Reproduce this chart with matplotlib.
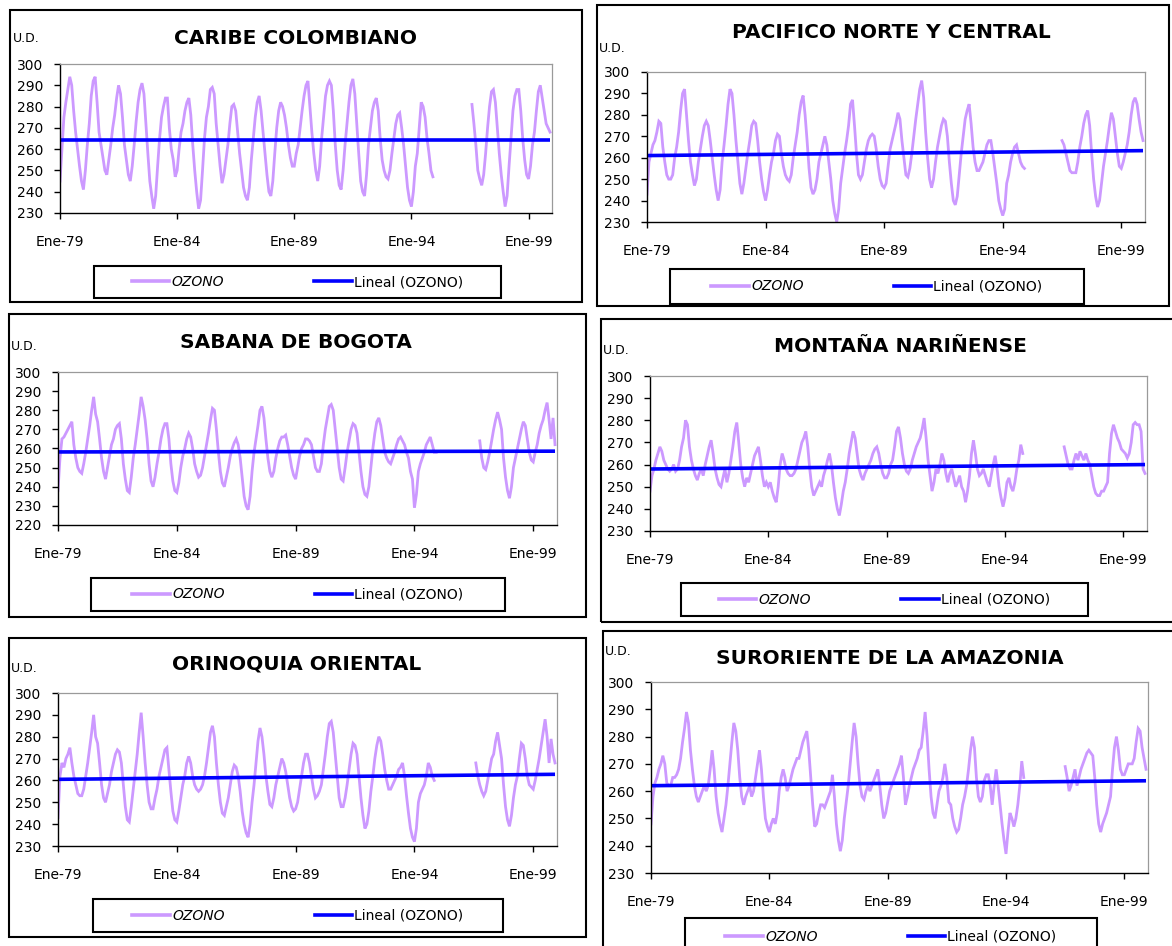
import numpy as np
import matplotlib
matplotlib.use("Agg")
import matplotlib.pyplot as plt
from matplotlib.patches import Rectangle
from matplotlib.lines import Line2D

N = None

# ---------------- data ----------------
titles = ["CARIBE COLOMBIANO", "PACIFICO NORTE Y CENTRAL", "SABANA DE BOGOTA",
          "MONTAÑA NARIÑENSE", "ORINOQUIA ORIENTAL", "SURORIENTE DE LA AMAZONIA"]
first_year = 1979
n_years = 21
xtick_years = [1979, 1984, 1989, 1994, 1999]
xtick_labels = ["Ene-79", "Ene-84", "Ene-89", "Ene-94", "Ene-99"]
series_label = "OZONO"
trend_label = "Lineal (OZONO)"
unit_label = "U.D."
y_min = [230, 230, 220, 230, 230, 230]
y_max = [300, 300, 300, 300, 300, 300]
trend_start = [264.5, 261.0, 258.2, 258.0, 260.5, 262.0]
trend_end = [264.5, 263.3, 258.6, 260.0, 262.8, 263.8]

caribe = [
    245, 260, 275, 282, 288, 294, 290, 278, 268, 260, 252, 245,
    241, 250, 262, 272, 285, 292, 294, 282, 268, 262, 256, 250,
    248, 255, 262, 270, 276, 284, 290, 286, 275, 262, 255, 248,
    245, 252, 262, 273, 282, 288, 291, 286, 272, 258, 245, 238,
    232, 238, 252, 265, 275, 280, 284, 284, 270, 260, 255, 247,
    250, 260, 268, 272, 278, 282, 284, 276, 262, 250, 240, 232,
    236, 250, 265, 275, 280, 288, 289, 286, 272, 262, 252, 244,
    248, 255, 262, 272, 280, 281, 278, 268, 258, 250, 242, 238,
    236, 242, 255, 265, 275, 282, 285, 278, 268, 258, 248, 240,
    238, 245, 258, 270, 278, 282, 280, 276, 270, 262, 256, 252,
    252, 258, 262, 270, 278, 285, 290, 292, 280, 268, 258, 250,
    245, 252, 265, 275, 285, 290, 292, 290, 278, 262, 250, 243,
    241, 250, 262, 272, 282, 290, 293, 286, 272, 258, 245, 240,
    238, 248, 262, 270, 278, 282, 284, 278, 265, 255, 250, 247,
    246, 250, 258, 265, 272, 276, 277, 270, 262, 252, 242, 236,
    233, 240, 252, 258, 270, 282, 280, 275, 265, 258, 250, 247,
    N, N, N, N, N, N, N, N, N, N, N, N,
    N, N, N, N, N, N, N, 281, 272, 262, 250, 246,
    243, 248, 258, 270, 280, 287, 288, 282, 270, 258, 248, 240,
    233, 238, 252, 265, 278, 285, 288, 288, 278, 265, 255, 248,
    246, 252, 262, 268, 278, 287, 290, 284, 278, 272, 270, 268,
]

pacifico = [
    243, 258, 262, 266, 268, 272, 277, 276, 265, 258, 252, 250,
    250, 252, 260, 265, 272, 282, 290, 292, 280, 268, 258, 252,
    247, 250, 258, 264, 270, 275, 277, 275, 268, 260, 252, 245,
    240, 245, 258, 266, 275, 285, 292, 290, 280, 268, 258, 248,
    243, 248, 255, 262, 268, 275, 277, 276, 268, 258, 250, 244,
    240, 245, 252, 258, 262, 268, 271, 270, 262, 256, 252, 250,
    249, 252, 260, 266, 272, 280, 286, 289, 280, 268, 255, 246,
    243, 245, 250, 258, 262, 266, 270, 266, 258, 250, 240, 234,
    230, 236, 248, 255, 262, 268, 275, 285, 287, 275, 262, 252,
    250, 252, 258, 264, 268, 270, 271, 270, 264, 256, 250, 247,
    246, 248, 256, 264, 268, 272, 276, 281, 278, 268, 260, 252,
    251, 255, 262, 270, 278, 285, 292, 296, 288, 272, 260, 250,
    246, 250, 258, 265, 270, 275, 278, 277, 270, 258, 248, 240,
    238, 242, 252, 262, 270, 278, 282, 285, 276, 265, 258, 254,
    254, 256, 258, 262, 266, 268, 268, 262, 255, 248, 240, 236,
    233, 236, 248, 252, 258, 262, 265, 266, 262, 258, 256, 255,
    N, N, N, N, N, N, N, N, N, N, N, N,
    N, N, N, N, N, N, 268, 266, 262, 258, 254, 253,
    253, 253, 258, 265, 270, 276, 280, 282, 275, 262, 250, 242,
    237, 240, 248, 256, 262, 268, 275, 281, 278, 270, 262, 256,
    255, 258, 262, 266, 272, 280, 286, 288, 285, 278, 272, 268,
]

sabana = [
    238, 255, 265, 266, 268, 270, 272, 274, 262, 255, 250, 248,
    247, 252, 258, 265, 272, 280, 287, 278, 274, 265, 255, 248,
    244, 250, 256, 262, 265, 270, 272, 273, 265, 252, 244, 238,
    237, 245, 255, 262, 270, 278, 287, 282, 275, 265, 252, 243,
    240, 245, 252, 258, 265, 270, 273, 273, 265, 252, 243, 238,
    237, 242, 250, 256, 260, 265, 268, 266, 260, 252, 248, 245,
    246, 250, 256, 262, 268, 275, 281, 280, 270, 258, 248, 242,
    240, 245, 250, 256, 260, 263, 265, 262, 255, 245, 235, 230,
    228, 235, 248, 258, 265, 272, 280, 282, 276, 265, 255, 248,
    245, 248, 255, 260, 264, 266, 266, 267, 262, 256, 250, 246,
    244, 250, 256, 260, 262, 265, 265, 264, 262, 256, 250, 248,
    248, 252, 262, 270, 276, 282, 283, 280, 270, 260, 250, 244,
    243, 250, 258, 264, 270, 273, 272, 268, 258, 248, 240, 236,
    235, 240, 250, 260, 268, 274, 276, 272, 265, 258, 255, 253,
    252, 255, 258, 262, 265, 266, 264, 262, 258, 255, 248, 244,
    229, 236, 248, 252, 255, 258, 262, 264, 266, 262, 258, 258,
    N, N, N, N, N, N, N, N, N, N, N, N,
    N, N, N, N, N, N, N, N, N, 264, 255, 250,
    249, 253, 258, 264, 270, 275, 279, 275, 270, 255, 245, 238,
    234, 240, 250, 255, 260, 265, 270, 274, 272, 265, 258, 254,
    253, 258, 262, 268, 272, 275, 280, 284, 275, 265, 276, 262,
]

montana = [
    248, 255, 258, 262, 265, 268, 266, 262, 260, 258, 257, 258,
    260, 257, 258, 262, 268, 272, 280, 278, 268, 262, 258, 255,
    253, 256, 258, 255, 260, 264, 268, 271, 265, 258, 254, 251,
    250, 254, 258, 252, 256, 262, 268, 275, 279, 270, 260, 254,
    250, 254, 252, 256, 260, 264, 266, 268, 262, 255, 250, 252,
    250, 252, 248, 245, 243, 250, 260, 265, 262, 258, 256, 255,
    255, 256, 258, 262, 266, 270, 272, 275, 268, 258, 250, 246,
    248, 250, 252, 250, 255, 258, 262, 265, 260, 252, 245, 240,
    237, 242, 248, 252, 258, 265, 270, 275, 272, 265, 258, 255,
    253, 256, 258, 260, 262, 265, 267, 268, 265, 260, 256, 254,
    254, 256, 260, 262, 268, 275, 277, 272, 265, 260, 257, 256,
    258, 262, 265, 268, 270, 272, 276, 281, 272, 262, 255, 248,
    252, 258, 256, 260, 265, 262, 256, 252, 256, 258, 254, 250,
    252, 255, 250, 248, 243, 248, 255, 265, 271, 265, 258, 255,
    256, 258, 255, 252, 250, 255, 260, 264, 258, 250, 245, 241,
    245, 252, 254, 250, 248, 252, 258, 262, 269, 265, N, N,
    N, N, N, N, N, N, N, N, N, N, N, N,
    N, N, N, N, N, N, 268, 264, 260, 258, 258, 262,
    265, 262, 266, 264, 262, 265, 262, 260, 255, 250, 247, 246,
    246, 248, 248, 250, 252, 265, 274, 278, 275, 272, 270, 267,
    266, 265, 263, 265, 270, 278, 279, 278, 278, 275, 258, 256,
]

orinoquia = [
    243, 262, 268, 266, 270, 272, 275, 268, 262, 258, 254, 253,
    253, 256, 262, 268, 275, 282, 290, 280, 277, 268, 258, 252,
    250, 254, 258, 264, 268, 272, 274, 273, 268, 258, 248, 242,
    241, 248, 256, 264, 272, 282, 291, 280, 268, 258, 250, 247,
    247, 252, 256, 262, 266, 270, 274, 275, 265, 255, 246, 242,
    241, 246, 252, 258, 262, 268, 271, 268, 262, 258, 256, 255,
    256, 258, 262, 268, 275, 282, 285, 280, 268, 258, 250, 245,
    244, 248, 252, 258, 264, 267, 266, 262, 255, 246, 240, 236,
    234, 240, 250, 258, 268, 278, 284, 280, 272, 262, 255, 249,
    248, 252, 258, 262, 266, 270, 268, 264, 258, 252, 248, 246,
    247, 250, 256, 262, 268, 272, 272, 268, 262, 256, 252, 253,
    255, 258, 265, 272, 280, 286, 287, 282, 272, 262, 252, 248,
    248, 252, 258, 265, 272, 277, 276, 272, 262, 252, 244, 238,
    240, 246, 255, 262, 270, 276, 280, 278, 272, 265, 260, 256,
    256, 258, 260, 262, 265, 266, 268, 262, 253, 245, 238, 234,
    232, 238, 250, 254, 256, 258, 262, 268, 266, 262, 260, N,
    N, N, N, N, N, N, N, N, N, N, N, N,
    N, N, N, N, N, N, N, 268, 262, 258, 255, 253,
    255, 260, 265, 270, 272, 278, 282, 276, 270, 258, 248, 242,
    239, 244, 252, 258, 262, 270, 277, 276, 270, 262, 258, 257,
    256, 260, 265, 270, 276, 282, 288, 280, 268, 279, 272, 268,
]

amazonia = [
    248, 258, 263, 265, 268, 270, 273, 270, 263, 262, 262, 265,
    265, 266, 268, 272, 278, 283, 289, 285, 275, 268, 262, 258,
    256, 258, 260, 262, 260, 262, 268, 275, 268, 258, 252, 248,
    245, 250, 255, 262, 270, 278, 285, 282, 275, 265, 258, 255,
    258, 260, 262, 258, 260, 265, 270, 275, 268, 258, 250, 247,
    245, 248, 250, 248, 252, 260, 265, 268, 265, 260, 262, 265,
    268, 270, 272, 272, 275, 278, 280, 282, 275, 265, 255, 247,
    248, 252, 255, 255, 254, 256, 258, 260, 266, 258, 248, 242,
    238, 242, 250, 256, 262, 270, 278, 285, 280, 270, 262, 258,
    257, 260, 262, 260, 262, 264, 266, 268, 262, 255, 250, 252,
    256, 260, 262, 264, 266, 268, 270, 273, 265, 255, 258, 262,
    265, 268, 270, 272, 275, 276, 282, 289, 280, 268, 258, 252,
    250, 255, 260, 262, 265, 270, 265, 256, 255, 250, 247, 245,
    246, 250, 255, 258, 262, 268, 275, 280, 276, 265, 258, 256,
    258, 264, 266, 266, 262, 255, 262, 268, 262, 255, 248, 242,
    237, 245, 252, 250, 247, 250, 255, 262, 271, 265, N, N,
    N, N, N, N, N, N, N, N, N, N, N, N,
    N, N, N, N, N, N, 269, 265, 260, 262, 265, 268,
    262, 265, 268, 270, 272, 274, 275, 274, 273, 265, 255, 248,
    245, 248, 250, 252, 255, 258, 268, 276, 280, 275, 268, 266,
    266, 268, 270, 270, 270, 272, 278, 283, 282, 276, 272, 268,
]

all_series = [caribe, pacifico, sabana, montana, orinoquia, amazonia]

# ---------------- layout (pixel boxes) ----------------
W, H = 1172, 946
# frame (l, t, r, b), plot (l, t, r, b), title (x, y), U.D. (x, y), legend box (l, t, r, b)
layout = [
    dict(frame=(10, 10, 582, 302), plot=(60, 64, 552, 213), title=(296, 38),
         ud=(13, 39), leg=(94, 266, 501, 298)),
    dict(frame=(597, 5, 1169, 306), plot=(647, 72, 1145, 222), title=(891, 33),
         ud=(599, 48), leg=(670, 269, 1084, 304)),
    dict(frame=(9, 314, 586, 617), plot=(58, 372, 557, 525), title=(296, 342),
         ud=(11, 346), leg=(91, 578, 505, 611)),
    dict(frame=(601, 319, 1185, 622), plot=(650, 376, 1147, 531), title=(900, 346),
         ud=(603, 350), leg=(681, 583, 1088, 616)),
    dict(frame=(9, 638, 586, 937), plot=(58, 693, 557, 846), title=(297, 664),
         ud=(11, 668), leg=(93, 899, 503, 932)),
    dict(frame=(603, 631, 1185, 960), plot=(651, 682, 1148, 873), title=(890, 659),
         ud=(605, 651), leg=(685, 918, 1097, 955)),
]

LILAC = "#CC99FF"
BLUE = "#0000FF"

fig = plt.figure(figsize=(W / 100, H / 100), dpi=100)
fig.patch.set_facecolor("white")


def fx(px):
    return px / W


def fy(py):
    return 1 - py / H


months = first_year + np.arange(n_years * 12) / 12.0

for i, (title, series, lay) in enumerate(zip(titles, all_series, layout)):
    vals = np.array([np.nan if v is None else v for v in series], dtype=float)

    fl, ft, fr, fb = lay["frame"]
    fig.add_artist(Rectangle((fx(fl), fy(fb)), (fr - fl) / W, (fb - ft) / H,
                             transform=fig.transFigure, fill=False,
                             edgecolor="black", linewidth=1.5, zorder=0))

    pl, pt, pr, pb = lay["plot"]
    ax = fig.add_axes([fx(pl), fy(pb), (pr - pl) / W, (pb - pt) / H])
    ax.plot(months, vals, color=LILAC, linewidth=2.0, solid_joinstyle="miter")
    ax.plot([months[0], months[-1]], [trend_start[i], trend_end[i]],
            color=BLUE, linewidth=2.6, solid_capstyle="butt")

    ax.set_xlim(first_year, first_year + n_years)
    ax.set_ylim(y_min[i], y_max[i])
    ax.set_yticks(np.arange(y_min[i], y_max[i] + 1, 10))
    ax.set_xticks(xtick_years)
    ax.set_xticklabels(xtick_labels)
    ax.tick_params(axis="both", direction="out", length=4, width=1,
                   labelsize=10, colors="black")
    ax.tick_params(axis="x", pad=12)
    ax.tick_params(axis="y", pad=8)
    for s in ("top", "right"):
        ax.spines[s].set_color("#9a9a9a")
        ax.spines[s].set_linewidth(0.9)
    for s in ("left", "bottom"):
        ax.spines[s].set_color("black")
        ax.spines[s].set_linewidth(1.0)

    tx, ty = lay["title"]
    fig.text(fx(tx), fy(ty), title, ha="center", va="center",
             fontsize=14.5, fontweight="bold", color="black")
    ux, uy = lay["ud"]
    fig.text(fx(ux), fy(uy), unit_label, ha="left", va="center",
             fontsize=9, color="black")

    ll, lt, lr, lb = lay["leg"]
    fig.add_artist(Rectangle((fx(ll), fy(lb)), (lr - ll) / W, (lb - lt) / H,
                             transform=fig.transFigure, fill=False,
                             edgecolor="black", linewidth=1.5, zorder=1))
    handles = [Line2D([], [], color=LILAC, linewidth=2.6),
               Line2D([], [], color=BLUE, linewidth=2.6)]
    leg = fig.legend(handles, [series_label, trend_label], loc="center",
                     bbox_to_anchor=(fx((ll + lr) / 2), fy((lt + lb) / 2)),
                     ncol=2, frameon=False, fontsize=10, handlelength=2.7,
                     handletextpad=0.15, columnspacing=6.5)
    leg.get_texts()[0].set_fontstyle("italic")

fig.savefig("out.png", dpi=100, facecolor="white")
